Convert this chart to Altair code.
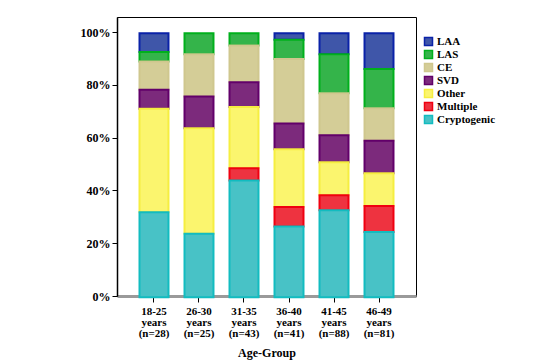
import altair as alt
import pandas as pd

groups = ["18-25 years (n=28)", "26-30 years (n=25)", "31-35 years (n=43)",
          "36-40 years (n=41)", "41-45 years (n=88)", "46-49 years (n=81)"]
causes = ["LAA", "LAS", "CE", "SVD", "Other", "Multiple", "Cryptogenic"]
fills = ["#3f56a9", "#34b44a", "#d4cd97", "#7c2a7c", "#fbf56e", "#ee3340", "#48c2c6"]
strokes = ["#0a22a8", "#00b01c", "#cfc78e", "#62006a", "#f5ee40", "#f00010", "#12bcc0"]

# counts per cause for each age group
LAA = [2, 0, 0, 1, 7, 11]
LAS = [1, 2, 2, 3, 13, 12]
CE = [3, 4, 6, 10, 14, 10]
SVD = [2, 3, 4, 4, 9, 10]
Other = [11, 10, 10, 9, 11, 10]
Multiple = [0, 0, 2, 3, 5, 8]
Cryptogenic = [9, 6, 19, 11, 29, 20]

series = {"LAA": LAA, "LAS": LAS, "CE": CE, "SVD": SVD, "Other": Other,
          "Multiple": Multiple, "Cryptogenic": Cryptogenic}
rows = []
for c, vals in series.items():
    for g, v in zip(groups, vals):
        rows.append({"group": g, "cause": c, "count": v,
                     "ord": len(causes) - 1 - causes.index(c)})
df = pd.DataFrame(rows)

FONT = "Liberation Serif"

leg = dict(title=None, orient="none", legendX=306, legendY=19,
           symbolType="square", symbolSize=64, symbolStrokeWidth=1.5,
           symbolOpacity=1, labelFont=FONT, labelFontWeight="bold",
           labelFontSize=11, labelColor="black", rowPadding=-2, labelOffset=3)

chart = alt.Chart(df).transform_filter("datum.count > 0").mark_bar(
    strokeWidth=2, yOffset=1.2, y2Offset=-1.2
).encode(
    x=alt.X("group:N", sort=groups,
            scale=alt.Scale(paddingInner=0.356, paddingOuter=0.5),
            axis=alt.Axis(title="Age-Group", labelAngle=0,
                          labelExpr="split(datum.label, ' ')",
                          labelFont=FONT, labelFontWeight="bold", labelFontSize=11,
                          labelColor="black", labelLineHeight=11, labelPadding=3,
                          titleFont=FONT, titleFontWeight="bold", titleFontSize=12,
                          titleColor="black", titlePadding=9,
                          domainColor="#9a9a9a", domainWidth=3,
                          tickColor="black", tickSize=6)),
    y=alt.Y("count:Q", stack="normalize",
            scale=alt.Scale(domain=[0, 1.057], nice=False),
            axis=alt.Axis(title=None, values=[0, 0.2, 0.4, 0.6, 0.8, 1.0], format=".0%",
                          labelFont=FONT, labelFontWeight="bold", labelFontSize=12,
                          labelColor="black", labelPadding=2,
                          domainColor="black", domainWidth=1.5,
                          tickColor="black", tickSize=5, grid=False)),
    color=alt.Color("cause:N", sort=causes,
                    scale=alt.Scale(domain=causes, range=fills),
                    legend=alt.Legend(**leg)),
    stroke=alt.Stroke("cause:N", sort=causes,
                      scale=alt.Scale(domain=causes, range=strokes),
                      legend=alt.Legend(**leg)),
    order=alt.Order("ord:Q", sort="ascending"),
).properties(
    width=299, height=279,
    autosize=alt.AutoSizeParams(type="none"),
    padding={"left": 109, "top": 9, "right": 130, "bottom": 67},
).configure_view(stroke="black", strokeWidth=1)

chart.save("out.html", embed_options={"renderer": "svg", "actions": False})
